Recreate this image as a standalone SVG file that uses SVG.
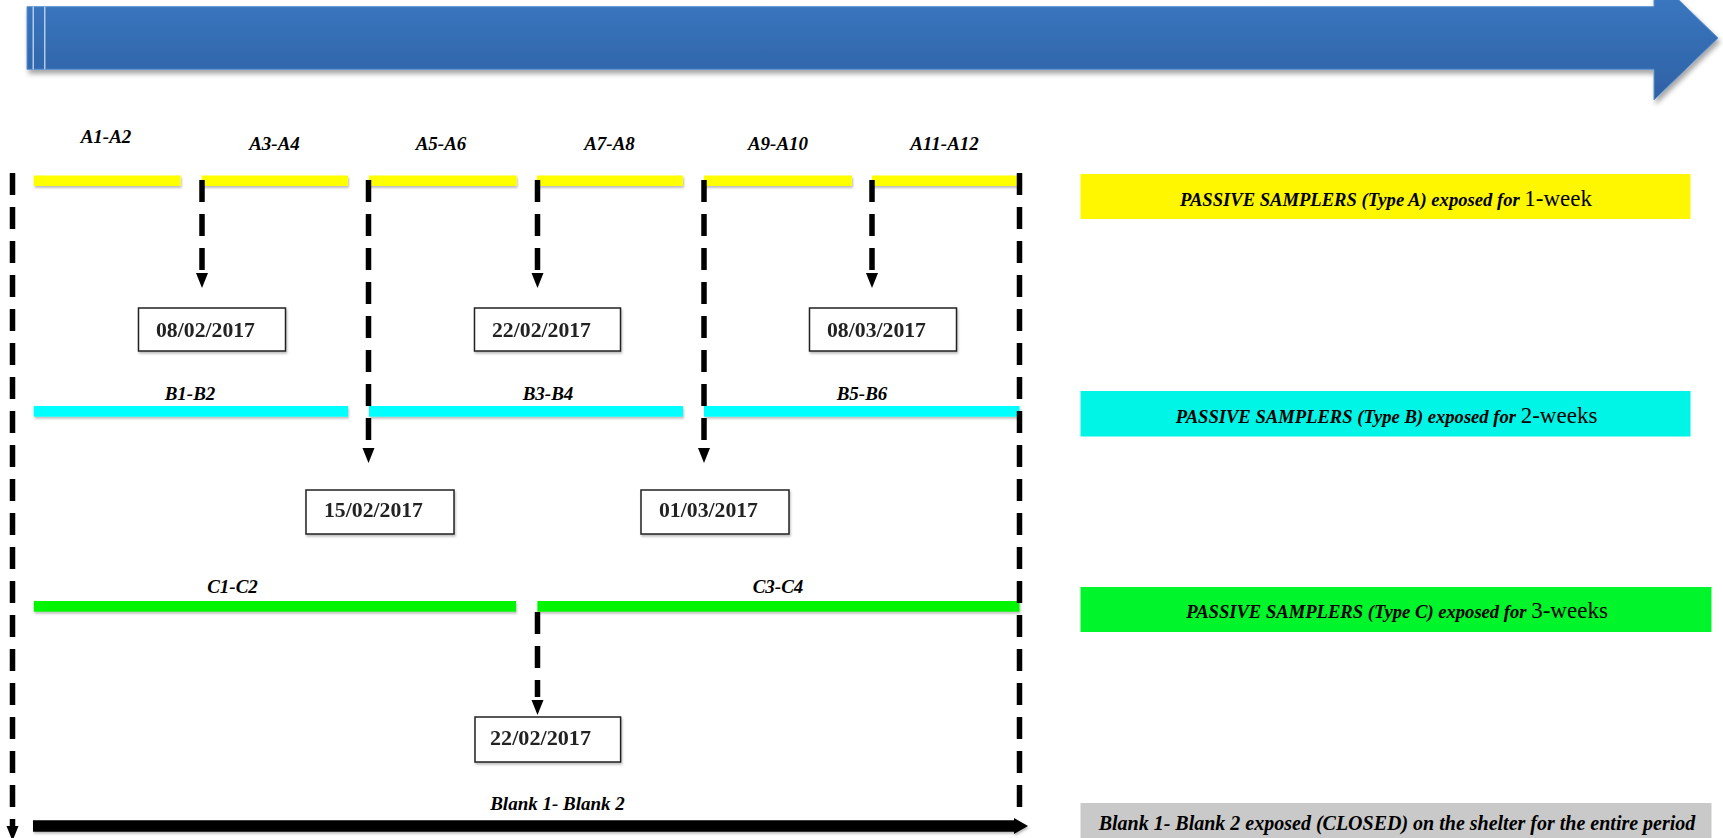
<svg xmlns="http://www.w3.org/2000/svg" width="1723" height="838" viewBox="0 0 1723 838">
<defs>
<linearGradient id="bannerGrad" x1="0" y1="0" x2="0" y2="1">
<stop offset="0" stop-color="#3c7bc5"/>
<stop offset="1" stop-color="#2e61a4"/>
</linearGradient>
<filter id="shadow" x="-5%" y="-40%" width="110%" height="190%">
<feDropShadow dx="2" dy="4" stdDeviation="2.5" flood-color="#000" flood-opacity="0.35"/>
</filter>
<filter id="soft" x="-5%" y="-60%" width="110%" height="260%">
<feDropShadow dx="1" dy="2" stdDeviation="1.2" flood-color="#000" flood-opacity="0.25"/>
</filter>
<path id="ah" d="M-6,0 L6,0 L0,15 Z" fill="#000"/>
</defs>
<style>
.lbl { font-family: "Liberation Serif", serif; font-weight: bold; font-style: italic; font-size: 19px; fill: #000; text-anchor: middle; }
.date { font-family: "Liberation Serif", serif; font-weight: bold; font-size: 20px; fill: #222; }
.box { fill: #fff; stroke: #222; stroke-width: 1.5; }
.dash { stroke: #000; stroke-width: 5.5; stroke-dasharray: 22 12; fill: none; }
.ybar { fill: #ffff00; }
.cbar { fill: #00ffff; }
.gbar { fill: #00f500; }
.legend { font-family: "Liberation Serif", serif; font-size: 18.6px; font-weight: bold; font-style: italic; text-anchor: middle; fill: #000; }
.num { font-family: "Liberation Serif", "Times New Roman", serif; font-weight: normal; font-style: normal; font-size: 23px; }
</style>

<g id="banner">
<path d="M27,6.7 L1654,6.7 L1654,-24 L1718,38 L1654,100 L1654,69.3 L27,69.3 Z" fill="url(#bannerGrad)" stroke="#5b8fd2" stroke-width="1" filter="url(#shadow)"/>
<rect x="32.6" y="6.7" width="1.2" height="62.6" fill="#d4e2f4"/>
<rect x="44.2" y="6.7" width="1.2" height="62.6" fill="#d4e2f4"/>
</g>

<g id="bars-a" filter="url(#soft)">
<rect class="ybar" x="33.7" y="175.5" width="147" height="10.5"/>
<rect class="ybar" x="201.7" y="175.5" width="146.3" height="10.5"/>
<rect class="ybar" x="369" y="175.5" width="147.6" height="10.5"/>
<rect class="ybar" x="537" y="175.5" width="146" height="10.5"/>
<rect class="ybar" x="704" y="175.5" width="148" height="10.5"/>
<rect class="ybar" x="872" y="175.5" width="148" height="10.5"/>
</g>
<g id="bars-b" filter="url(#soft)">
<rect class="cbar" x="33.7" y="406" width="314.3" height="10.7"/>
<rect class="cbar" x="369" y="406" width="314" height="10.7"/>
<rect class="cbar" x="704" y="406" width="315.5" height="10.7"/>
</g>
<g id="bars-c" filter="url(#soft)">
<rect class="gbar" x="33.8" y="601" width="482.2" height="10.7"/>
<rect class="gbar" x="537.4" y="601" width="482.1" height="10.7"/>
</g>

<g id="labels-a">
<text class="lbl" x="106" y="143">A1-A2</text>
<text class="lbl" x="274.5" y="150">A3-A4</text>
<text class="lbl" x="441" y="150">A5-A6</text>
<text class="lbl" x="609.5" y="150">A7-A8</text>
<text class="lbl" x="778" y="150">A9-A10</text>
<text class="lbl" x="944.5" y="150">A11-A12</text>
</g>
<g id="labels-b">
<text class="lbl" x="190" y="400">B1-B2</text>
<text class="lbl" x="548" y="400">B3-B4</text>
<text class="lbl" x="862" y="400">B5-B6</text>
</g>
<g id="labels-c">
<text class="lbl" x="232.5" y="593">C1-C2</text>
<text class="lbl" x="778" y="593">C3-C4</text>
</g>
<g id="label-blank">
<text class="lbl" x="557.5" y="810">Blank 1- Blank 2</text>
</g>

<g id="date-0802" filter="url(#soft)">
<rect class="box" x="138.5" y="308" width="147" height="43"/>
<text class="date" x="156" y="337" textLength="99" lengthAdjust="spacingAndGlyphs">08/02/2017</text>
</g>
<g id="date-2202a" filter="url(#soft)">
<rect class="box" x="474.5" y="308" width="146" height="43"/>
<text class="date" x="492" y="337" textLength="99" lengthAdjust="spacingAndGlyphs">22/02/2017</text>
</g>
<g id="date-0803" filter="url(#soft)">
<rect class="box" x="809.5" y="308" width="147" height="43"/>
<text class="date" x="827" y="337" textLength="99" lengthAdjust="spacingAndGlyphs">08/03/2017</text>
</g>
<g id="date-1502" filter="url(#soft)">
<rect class="box" x="306" y="490" width="148" height="44"/>
<text class="date" x="324" y="517" textLength="99" lengthAdjust="spacingAndGlyphs">15/02/2017</text>
</g>
<g id="date-0103" filter="url(#soft)">
<rect class="box" x="641" y="490" width="148" height="44"/>
<text class="date" x="659" y="517" textLength="99" lengthAdjust="spacingAndGlyphs">01/03/2017</text>
</g>
<g id="date-2202c" filter="url(#soft)">
<rect class="box" x="475" y="717" width="145.6" height="45"/>
<text class="date" x="490" y="745" textLength="101" lengthAdjust="spacingAndGlyphs">22/02/2017</text>
</g>

<g id="legend-a">
<rect x="1080.5" y="174" width="610" height="45" fill="#fff700"/>
<text class="legend" x="1386" y="206">PASSIVE SAMPLERS (Type A) exposed for <tspan class="num">1-week</tspan></text>
</g>
<g id="legend-b">
<rect x="1080.5" y="391" width="610" height="45.5" fill="#00f5e6"/>
<text class="legend" x="1386.5" y="423">PASSIVE SAMPLERS (Type B) exposed for <tspan class="num">2-weeks</tspan></text>
</g>
<g id="legend-c">
<rect x="1080.5" y="587" width="631" height="45" fill="#00f52a"/>
<text class="legend" x="1397" y="618">PASSIVE SAMPLERS (Type C) exposed for <tspan class="num">3-weeks</tspan></text>
</g>
<g id="legend-blank">
<rect x="1080.5" y="803" width="631" height="40" fill="#c9c9c9"/>
<text class="legend" x="1397" y="830" style="font-size:20px">Blank 1- Blank 2 exposed (CLOSED) on the shelter for the entire period</text>
</g>

<g id="connectors">
<line class="dash" x1="12.5" y1="173" x2="12.5" y2="829"/>
<use href="#ah" x="12.5" y="826"/>
<line class="dash" x1="1019.5" y1="173" x2="1019.5" y2="818"/>
<line class="dash" x1="202" y1="180" x2="202" y2="270"/>
<use href="#ah" x="202" y="273"/>
<line class="dash" x1="537.5" y1="180" x2="537.5" y2="270"/>
<use href="#ah" x="537.5" y="273"/>
<line class="dash" x1="872" y1="180" x2="872" y2="270"/>
<use href="#ah" x="872" y="273"/>
<line class="dash" x1="368.5" y1="180" x2="368.5" y2="440"/>
<use href="#ah" x="368.5" y="448"/>
<line class="dash" x1="704" y1="180" x2="704" y2="440"/>
<use href="#ah" x="704" y="448"/>
<line class="dash" x1="537.5" y1="612" x2="537.5" y2="697"/>
<use href="#ah" x="537.5" y="700"/>
<g filter="url(#soft)">
<line x1="33" y1="826" x2="1016" y2="826" stroke="#000" stroke-width="11.7"/>
<path d="M1014,818 L1028,826 L1014,834 Z" fill="#000"/>
</g>
</g>
</svg>
